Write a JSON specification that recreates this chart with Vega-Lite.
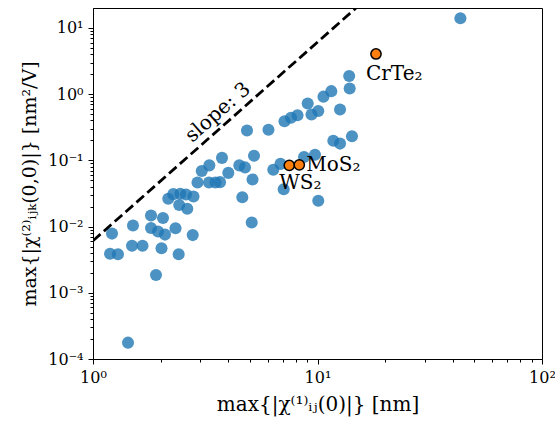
{
  "$schema": "https://vega.github.io/schema/vega-lite/v6.json",
  "width": 449,
  "height": 351,
  "autosize": {"type": "none"},
  "padding": {"left": 93, "top": 8, "right": 13, "bottom": 71},
  "background": "white",
  "config": {
    "view": {"stroke": "black", "strokeWidth": 1},
    "axis": {
      "grid": false,
      "domainColor": "black",
      "tickColor": "black",
      "labelColor": "black",
      "titleColor": "black",
      "labelFont": "DejaVu Serif",
      "titleFont": "DejaVu Serif",
      "titleFontWeight": "normal",
      "domainWidth": 1,
      "tickWidth": 1
    }
  },
  "datasets": {
    "pts": [
      {"x": 1.215, "y": 0.00783, "kind": "other", "name": ""},
      {"x": 1.191, "y": 0.0039, "kind": "other", "name": ""},
      {"x": 1.292, "y": 0.00383, "kind": "other", "name": ""},
      {"x": 1.507, "y": 0.01035, "kind": "other", "name": ""},
      {"x": 1.492, "y": 0.00515, "kind": "other", "name": ""},
      {"x": 1.662, "y": 0.00515, "kind": "other", "name": ""},
      {"x": 1.813, "y": 0.01468, "kind": "other", "name": ""},
      {"x": 2.05, "y": 0.01345, "kind": "other", "name": ""},
      {"x": 1.813, "y": 0.00949, "kind": "other", "name": ""},
      {"x": 1.948, "y": 0.0084, "kind": "other", "name": ""},
      {"x": 2.093, "y": 0.00756, "kind": "other", "name": ""},
      {"x": 2.331, "y": 0.00942, "kind": "other", "name": ""},
      {"x": 2.019, "y": 0.00472, "kind": "other", "name": ""},
      {"x": 2.408, "y": 0.00383, "kind": "other", "name": ""},
      {"x": 2.781, "y": 0.00743, "kind": "other", "name": ""},
      {"x": 1.908, "y": 0.001854, "kind": "other", "name": ""},
      {"x": 1.432, "y": 0.0001766, "kind": "other", "name": ""},
      {"x": 2.164, "y": 0.0263, "kind": "other", "name": ""},
      {"x": 2.279, "y": 0.0309, "kind": "other", "name": ""},
      {"x": 2.448, "y": 0.0313, "kind": "other", "name": ""},
      {"x": 2.596, "y": 0.0305, "kind": "other", "name": ""},
      {"x": 2.803, "y": 0.0285, "kind": "other", "name": ""},
      {"x": 2.421, "y": 0.0212, "kind": "other", "name": ""},
      {"x": 2.63, "y": 0.01855, "kind": "other", "name": ""},
      {"x": 2.921, "y": 0.0464, "kind": "other", "name": ""},
      {"x": 3.287, "y": 0.0464, "kind": "other", "name": ""},
      {"x": 3.513, "y": 0.0464, "kind": "other", "name": ""},
      {"x": 3.679, "y": 0.0469, "kind": "other", "name": ""},
      {"x": 3.05, "y": 0.0693, "kind": "other", "name": ""},
      {"x": 3.297, "y": 0.084, "kind": "other", "name": ""},
      {"x": 3.755, "y": 0.109, "kind": "other", "name": ""},
      {"x": 4.006, "y": 0.0647, "kind": "other", "name": ""},
      {"x": 4.485, "y": 0.084, "kind": "other", "name": ""},
      {"x": 4.754, "y": 0.0783, "kind": "other", "name": ""},
      {"x": 5.214, "y": 0.117, "kind": "other", "name": ""},
      {"x": 4.624, "y": 0.0278, "kind": "other", "name": ""},
      {"x": 5.135, "y": 0.0515, "kind": "other", "name": ""},
      {"x": 5.093, "y": 0.0115, "kind": "other", "name": ""},
      {"x": 4.853, "y": 0.282, "kind": "other", "name": ""},
      {"x": 6.048, "y": 0.29, "kind": "other", "name": ""},
      {"x": 6.354, "y": 0.0723, "kind": "other", "name": ""},
      {"x": 6.842, "y": 0.0885, "kind": "other", "name": ""},
      {"x": 7.07, "y": 0.0367, "kind": "other", "name": ""},
      {"x": 8.709, "y": 0.1122, "kind": "other", "name": ""},
      {"x": 9.747, "y": 0.1212, "kind": "other", "name": ""},
      {"x": 10.08, "y": 0.0245, "kind": "other", "name": ""},
      {"x": 11.76, "y": 0.1974, "kind": "other", "name": ""},
      {"x": 12.6, "y": 0.179, "kind": "other", "name": ""},
      {"x": 14.24, "y": 0.231, "kind": "other", "name": ""},
      {"x": 7.129, "y": 0.39, "kind": "other", "name": ""},
      {"x": 7.621, "y": 0.4406, "kind": "other", "name": ""},
      {"x": 8.146, "y": 0.481, "kind": "other", "name": ""},
      {"x": 9.045, "y": 0.723, "kind": "other", "name": ""},
      {"x": 9.404, "y": 0.494, "kind": "other", "name": ""},
      {"x": 10.08, "y": 0.558, "kind": "other", "name": ""},
      {"x": 10.63, "y": 0.917, "kind": "other", "name": ""},
      {"x": 11.52, "y": 1.11, "kind": "other", "name": ""},
      {"x": 12.6, "y": 0.586, "kind": "other", "name": ""},
      {"x": 13.84, "y": 1.874, "kind": "other", "name": ""},
      {"x": 13.91, "y": 1.22, "kind": "other", "name": ""},
      {"x": 43.3, "y": 14.03, "kind": "other", "name": ""},
      {"x": 7.486, "y": 0.084, "kind": "highlight", "name": "WS₂"},
      {"x": 8.297, "y": 0.0855, "kind": "highlight", "name": "MoS₂"},
      {"x": 18.22, "y": 4.04, "kind": "highlight", "name": "CrTe₂"}
    ],
    "fit": [
      {"x": 1, "y": 0.0061},
      {"x": 14.85, "y": 20}
    ],
    "ann": [
      {"x": 3.6, "y": 0.53, "t": "slope: 3"}
    ]
  },
  "layer": [
    {
      "data": {"name": "pts"},
      "transform": [{"filter": "datum.kind === 'other'"}],
      "mark": {"type": "circle", "size": 145, "color": "#1f77b4", "opacity": 0.8},
      "encoding": {
        "x": {
          "field": "x", "type": "quantitative",
          "scale": {"type": "log", "domain": [1, 100], "nice": false},
          "axis": {
            "orient": "bottom",
            "values": [1, 10, 100],
            "labelExpr": "'10' + ['⁰','¹','²'][round(log(datum.value)/LN10)]",
            "tickSize": 5,
            "labelPadding": 5,
            "labelFontSize": 16,
            "labelFlush": false,
            "title": "max{|χ⁽¹⁾ᵢⱼ(0)|} [nm]",
            "titleFontSize": 20,
            "titlePadding": 9
          }
        },
        "y": {
          "field": "y", "type": "quantitative",
          "scale": {"type": "log", "domain": [0.0001, 20], "nice": false},
          "axis": {
            "orient": "left",
            "values": [0.0001, 0.001, 0.01, 0.1, 1, 10],
            "labelExpr": "(datum.value < 0.5 ? '10⁻' : '10') + ['⁰','¹','²','³','⁴'][abs(round(log(datum.value)/LN10))]",
            "tickSize": 5,
            "labelPadding": 5,
            "labelFontSize": 16,
            "labelFlush": false,
            "title": "max{|χ⁽²⁾ᵢⱼₖ(0,0)|} [nm²/V]",
            "titleFontSize": 19,
            "titlePadding": 8
          }
        }
      }
    },
    {
      "data": {"name": "fit"},
      "mark": {"type": "line", "color": "black", "strokeWidth": 2.8, "strokeDash": [10, 4.5], "clip": true},
      "encoding": {
        "x": {
          "field": "x", "type": "quantitative",
          "scale": {"type": "log", "domain": [1, 100], "nice": false},
          "axis": {
            "orient": "bottom",
            "values": [2, 3, 4, 5, 6, 7, 8, 9, 20, 30, 40, 50, 60, 70, 80, 90],
            "labels": false,
            "domain": false,
            "tickSize": 3,
            "title": null
          }
        },
        "y": {
          "field": "y", "type": "quantitative",
          "scale": {"type": "log", "domain": [0.0001, 20], "nice": false},
          "axis": {
            "orient": "left",
            "values": [0.0002, 0.0003, 0.0004, 0.0005, 0.0006, 0.0007, 0.0008, 0.0009, 0.002, 0.003, 0.004, 0.005, 0.006, 0.007, 0.008, 0.009, 0.02, 0.03, 0.04, 0.05, 0.06, 0.07, 0.08, 0.09, 0.2, 0.3, 0.4, 0.5, 0.6, 0.7, 0.8, 0.9, 2, 3, 4, 5, 6, 7, 8, 9],
            "labels": false,
            "domain": false,
            "tickSize": 3,
            "title": null
          }
        }
      }
    },
    {
      "data": {"name": "ann"},
      "mark": {"type": "text", "angle": -41.4, "align": "center", "baseline": "middle", "font": "DejaVu Serif", "fontSize": 20, "color": "black"},
      "encoding": {
        "x": {"field": "x", "type": "quantitative", "scale": {"type": "log", "domain": [1, 100], "nice": false}, "axis": null},
        "y": {"field": "y", "type": "quantitative", "scale": {"type": "log", "domain": [0.0001, 20], "nice": false}, "axis": null},
        "text": {"field": "t"}
      }
    },
    {
      "data": {"name": "pts"},
      "transform": [{"filter": "datum.kind === 'highlight'"}],
      "mark": {"type": "circle", "size": 105, "color": "#ff7f0e", "opacity": 1, "stroke": "black", "strokeWidth": 1.5},
      "encoding": {
        "x": {"field": "x", "type": "quantitative", "scale": {"type": "log", "domain": [1, 100], "nice": false}, "axis": null},
        "y": {"field": "y", "type": "quantitative", "scale": {"type": "log", "domain": [0.0001, 20], "nice": false}, "axis": null}
      }
    },
    {
      "data": {"name": "pts"},
      "transform": [{"filter": "datum.name === 'CrTe₂'"}],
      "mark": {"type": "text", "align": "left", "baseline": "alphabetic", "dx": -10, "dy": 26, "font": "DejaVu Serif", "fontSize": 20, "color": "black"},
      "encoding": {
        "x": {"field": "x", "type": "quantitative", "scale": {"type": "log", "domain": [1, 100], "nice": false}, "axis": null},
        "y": {"field": "y", "type": "quantitative", "scale": {"type": "log", "domain": [0.0001, 20], "nice": false}, "axis": null},
        "text": {"field": "name"}
      }
    },
    {
      "data": {"name": "pts"},
      "transform": [{"filter": "datum.name === 'MoS₂'"}],
      "mark": {"type": "text", "align": "left", "baseline": "alphabetic", "dx": 7, "dy": 6, "font": "DejaVu Serif", "fontSize": 20, "color": "black"},
      "encoding": {
        "x": {"field": "x", "type": "quantitative", "scale": {"type": "log", "domain": [1, 100], "nice": false}, "axis": null},
        "y": {"field": "y", "type": "quantitative", "scale": {"type": "log", "domain": [0.0001, 20], "nice": false}, "axis": null},
        "text": {"field": "name"}
      }
    },
    {
      "data": {"name": "pts"},
      "transform": [{"filter": "datum.name === 'WS₂'"}],
      "mark": {"type": "text", "align": "left", "baseline": "alphabetic", "dx": -10, "dy": 24, "font": "DejaVu Serif", "fontSize": 20, "color": "black"},
      "encoding": {
        "x": {"field": "x", "type": "quantitative", "scale": {"type": "log", "domain": [1, 100], "nice": false}, "axis": null},
        "y": {"field": "y", "type": "quantitative", "scale": {"type": "log", "domain": [0.0001, 20], "nice": false}, "axis": null},
        "text": {"field": "name"}
      }
    }
  ],
  "resolve": {"axis": {"x": "independent", "y": "independent"}}
}
